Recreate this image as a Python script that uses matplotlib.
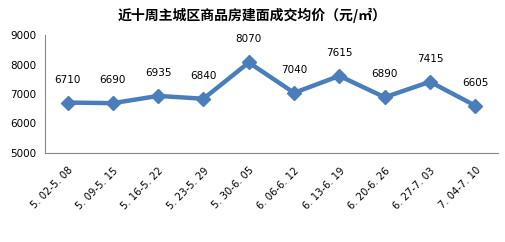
import matplotlib
matplotlib.use("Agg")
import matplotlib.pyplot as plt

categories = ["5. 02-5. 08", "5. 09-5. 15", "5. 16-5. 22", "5. 23-5. 29", "5. 30-6. 05",
              "6. 06-6. 12", "6. 13-6. 19", "6. 20-6. 26", "6. 27-7. 03", "7. 04-7. 10"]
values = [6710, 6690, 6935, 6840, 8070, 7040, 7615, 6890, 7415, 6605]
yticks = [5000, 6000, 7000, 8000, 9000]
title = "近十周主城区商品房建面成交均价（元/㎡）"

plt.rcParams['font.family'] = ['Noto Sans CJK SC', 'DejaVu Sans']

fig = plt.figure(figsize=(5.05, 2.42), dpi=100)
ax = fig.add_axes([0.089, 0.368, 0.897, 0.487])
x = list(range(len(values)))
color = "#4a7ebb"
ax.plot(x, values, color=color, linewidth=3.2, marker="D", markersize=7.5, zorder=3)
for xi, v in zip(x, values):
    ax.annotate(str(v), (xi, v), xytext=(0, 13), textcoords="offset points",
                ha="center", va="bottom", fontsize=7.5, family=['DejaVu Sans'])
ax.set_xlim(-0.5, len(values) - 0.5)
ax.set_ylim(5000, 9000)
ax.set_yticks(yticks)
ax.set_yticklabels([str(t) for t in yticks], fontsize=7.5, family=['DejaVu Sans'])
ax.set_xticks(x)
ax.set_xticklabels(categories, rotation=45, ha="right", rotation_mode="anchor",
                   fontsize=7.2, family=['DejaVu Sans'])
ax.tick_params(axis="x", length=0, pad=9)
ax.tick_params(axis="y", length=0, pad=6)
for s in ["top", "right"]:
    ax.spines[s].set_visible(False)
for s in ["left", "bottom"]:
    ax.spines[s].set_color("#888888")
    ax.spines[s].set_linewidth(0.8)
fig.text(0.5, 0.935, title, ha="center", va="center", fontsize=10, fontweight="bold")
fig.savefig("out.png", dpi=100)
